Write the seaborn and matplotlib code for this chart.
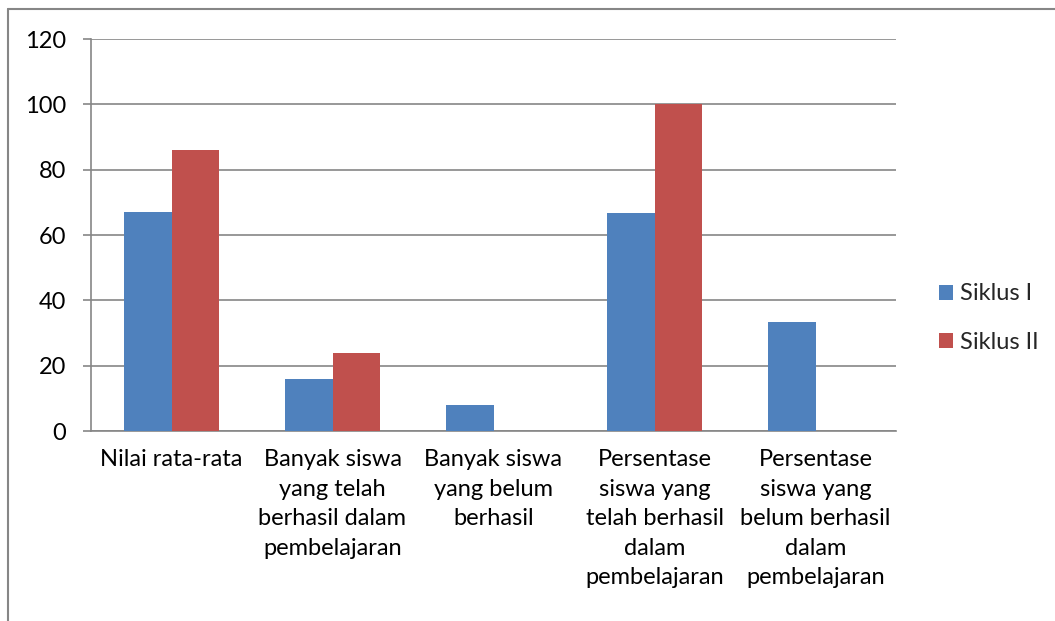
import matplotlib
matplotlib.use("Agg")
import matplotlib.pyplot as plt
import seaborn as sns
import pandas as pd
from matplotlib.lines import Line2D

categories = [
    "Nilai rata-rata",
    "Banyak siswa\nyang telah\nberhasil dalam\npembelajaran",
    "Banyak siswa\nyang belum\nberhasil",
    "Persentase\nsiswa yang\ntelah berhasil\ndalam\npembelajaran",
    "Persentase\nsiswa yang\nbelum berhasil\ndalam\npembelajaran",
]
series_names = ["Siklus I", "Siklus II"]
siklus1 = [67, 16, 8, 66.67, 33.33]
siklus2 = [86, 24, 0, 100, 0]
yticks = [0, 20, 40, 60, 80, 100, 120]

df = pd.DataFrame({
    "cat": categories * 2,
    "val": siklus1 + siklus2,
    "series": [series_names[0]] * 5 + [series_names[1]] * 5,
})

sns.set_theme(style="white")
plt.rcParams["font.family"] = ["Lato", "DejaVu Sans"]

FS = 17
W, H = 1055, 621
fig = plt.figure(figsize=(W / 100, H / 100), dpi=100)
ax = fig.add_axes([91 / W, 1 - 431 / H, (896 - 91) / W, (431 - 39) / H])

grid_c = "#868686"
sns.barplot(data=df, x="cat", y="val", hue="series", order=categories,
            hue_order=series_names, palette=["#4F81BD", "#C0504D"],
            width=0.584, saturation=1, ax=ax, zorder=3, linewidth=0)

ax.set_xlim(-0.5, 4.5)
ax.set_ylim(0, 120)
ax.set_yticks(yticks)
ax.set_yticklabels([str(v) for v in yticks])
ax.yaxis.grid(True, color=grid_c, linewidth=1.2, zorder=0)
ax.set_axisbelow(True)

ax.set_xticks(range(5))
ax.set_xticklabels(categories, fontsize=FS, color="black", linespacing=1.5)
ax.set_xticks([i - 0.5 for i in range(6)], minor=True)
ax.tick_params(axis="x", which="major", length=0, pad=13)
ax.tick_params(axis="x", which="minor", length=6, width=1.2, color=grid_c, direction="out")
ax.tick_params(axis="y", length=6, width=1.2, color=grid_c, direction="out", pad=12,
               labelsize=FS, labelcolor="black", left=True)
ax.set_xlabel("")
ax.set_ylabel("")

for s in ["top", "right"]:
    ax.spines[s].set_visible(False)
for s in ["left", "bottom"]:
    ax.spines[s].set_color(grid_c)
    ax.spines[s].set_linewidth(1.2)

leg = ax.legend(loc="center left", bbox_to_anchor=(939 / W, 1 - 318 / H),
                bbox_transform=fig.transFigure, frameon=False, fontsize=FS,
                handlelength=0.6, handleheight=0.6, handletextpad=0.3,
                labelspacing=1.15, borderaxespad=0, borderpad=0)

# outer chart border (cropped at right and bottom)
fig.add_artist(Line2D([8 / W, 1.0], [1 - 9 / H, 1 - 9 / H], transform=fig.transFigure,
                      color=grid_c, linewidth=1.5))
fig.add_artist(Line2D([8 / W, 8 / W], [1 - 9 / H, 0.0], transform=fig.transFigure,
                      color=grid_c, linewidth=1.5))

fig.savefig("out.png", dpi=100)
